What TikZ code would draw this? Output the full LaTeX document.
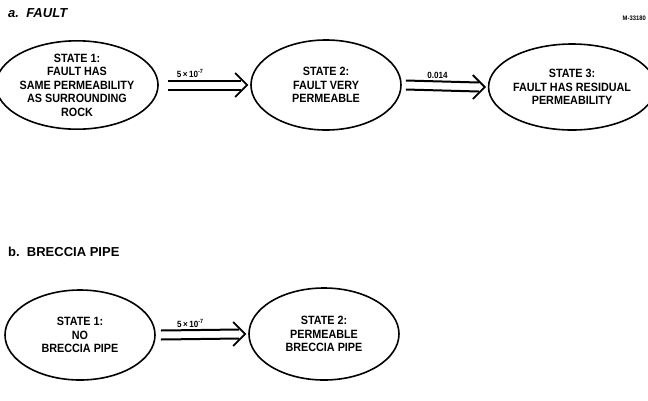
\documentclass[tikz,border=0pt]{standalone}
\usepackage{fontspec}
\setmainfont{Liberation Sans}
\newfontfamily\labfont[FakeStretch=0.9]{Liberation Sans}
\usetikzlibrary{shapes.geometric,calc}
\tikzset{
  statebox/.style={ellipse,draw,line width=1.6pt,inner sep=0pt,align=center,
    font=\labfont\bfseries\fontsize{12}{13.5}\selectfont},
  shaft/.style={line width=2pt},
  chevron/.style={line width=1.8pt,line join=miter},
  ratelabel/.style={font=\labfont\bfseries\fontsize{9}{10}\selectfont,inner sep=1pt},
  headlabel/.style={font=\bfseries\fontsize{13}{14}\selectfont,anchor=west,inner sep=0pt}
}
\begin{document}
\begin{tikzpicture}[x=1pt,y=-1pt]
\useasboundingbox (0,0) rectangle (648,400);
\node[headlabel] (ta) at (8,13) {\textit{a.\ \ FAULT}};
\node[font=\labfont\bfseries\fontsize{6.5}{7}\selectfont,anchor=east,inner sep=0pt] (id) at (646,18) {M-33180};
\node[statebox,minimum width=146pt,minimum height=88pt] (e1) at (77,85)
  {STATE 1:\\FAULT HAS\\SAME PERMEABILITY\\AS SURROUNDING\\ROCK};
\node[statebox,minimum width=150pt,minimum height=90pt] (e2) at (326,85)
  {STATE 2:\\FAULT VERY\\PERMEABLE};
\node[statebox,minimum width=146pt,minimum height=86pt] (e3) at (572,87)
  {STATE 3:\\FAULT HAS RESIDUAL\\PERMEABILITY};
% arrow 1
\coordinate (a1s) at ($(e1.east)+(9,0)$);
\coordinate (a1e) at ($(e2.west)+(-3,0)$);
\draw[shaft] ($(a1s)+(0,-4.5)$) -- ($(a1e)+(-6,-4.5)$);
\draw[shaft] ($(a1s)+(0,4.5)$) -- ($(a1e)+(-6,4.5)$);
\draw[chevron] ($(a1e)+(-12,-12)$) -- (a1e) -- ($(a1e)+(-12,12)$);
\node[ratelabel,above=6pt] (l1) at ($(a1s)!0.28!(a1e)$) {5\,×\,10\textsuperscript{-7}};
% arrow 2
\coordinate (a2s) at ($(e2.east)+(4,0)$);
\coordinate (a2e) at ($(e3.west)+(-3,0)$);
\draw[shaft] ($(a2s)+(0,-4.5)$) -- ($(a2e)+(-6,-4.5)$);
\draw[shaft] ($(a2s)+(0,4.5)$) -- ($(a2e)+(-6,4.5)$);
\draw[chevron] ($(a2e)+(-12,-12)$) -- (a2e) -- ($(a2e)+(-12,12)$);
\node[ratelabel,above=6pt] (l2) at ($(a2s)!0.4!(a2e)$) {0.014};
\node[headlabel] (tb) at (8,252) {b.\ \ BRECCIA PIPE};
\node[statebox,minimum width=150pt,minimum height=90pt] (b1) at (80,335)
  {STATE 1:\\NO\\BRECCIA PIPE};
\node[statebox,minimum width=150pt,minimum height=92pt] (b2) at (324,334)
  {STATE 2:\\PERMEABLE\\BRECCIA PIPE};
% arrow b
\coordinate (a3s) at ($(b1.east)+(5,0)$);
\coordinate (a3e) at ($(b2.west)+(-3,0)$);
\draw[shaft] ($(a3s)+(0,-4.5)$) -- ($(a3e)+(-6,-4.5)$);
\draw[shaft] ($(a3s)+(0,4.5)$) -- ($(a3e)+(-6,4.5)$);
\draw[chevron] ($(a3e)+(-12,-12)$) -- (a3e) -- ($(a3e)+(-12,12)$);
\node[ratelabel,above=6pt] (l3) at ($(a3s)!0.35!(a3e)$) {5\,×\,10\textsuperscript{-7}};
\end{tikzpicture}
\end{document}
